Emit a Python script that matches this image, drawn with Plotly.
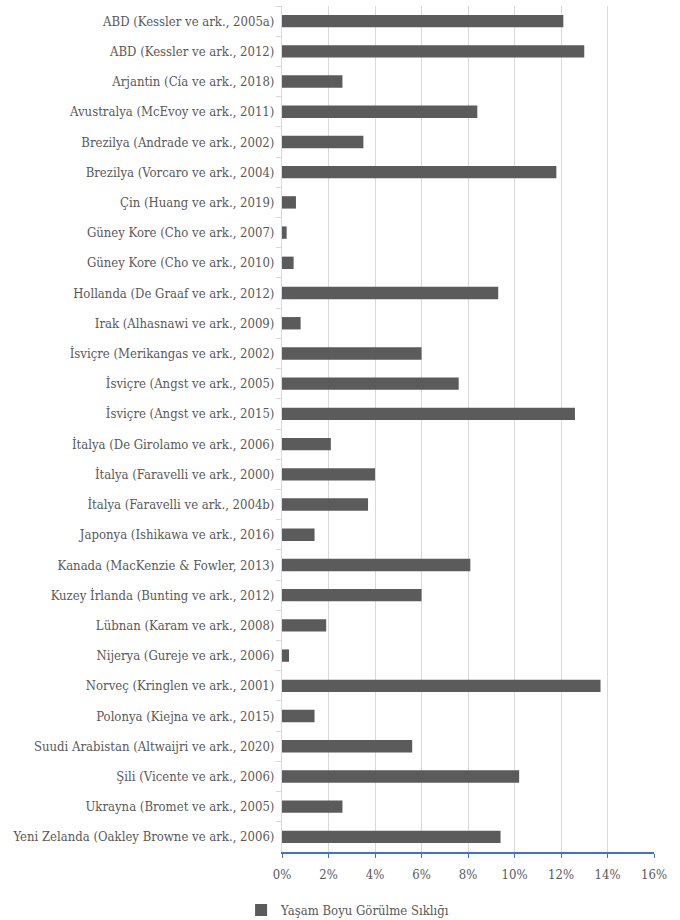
import plotly.graph_objects as go

# Lifetime prevalence by country / study (%)
studies = [
    "ABD (Kessler ve ark., 2005a)",
    "ABD (Kessler ve ark., 2012)",
    "Arjantin (Cía ve ark., 2018)",
    "Avustralya (McEvoy ve ark., 2011)",
    "Brezilya (Andrade ve ark., 2002)",
    "Brezilya (Vorcaro ve ark., 2004)",
    "Çin (Huang ve ark., 2019)",
    "Güney Kore (Cho ve ark., 2007)",
    "Güney Kore (Cho ve ark., 2010)",
    "Hollanda (De Graaf ve ark., 2012)",
    "Irak (Alhasnawi ve ark., 2009)",
    "İsviçre (Merikangas ve ark., 2002)",
    "İsviçre (Angst ve ark., 2005)",
    "İsviçre (Angst ve ark., 2015)",
    "İtalya (De Girolamo ve ark., 2006)",
    "İtalya (Faravelli ve ark., 2000)",
    "İtalya (Faravelli ve ark., 2004b)",
    "Japonya (Ishikawa ve ark., 2016)",
    "Kanada (MacKenzie & Fowler, 2013)",
    "Kuzey İrlanda (Bunting ve ark., 2012)",
    "Lübnan (Karam ve ark., 2008)",
    "Nijerya (Gureje ve ark., 2006)",
    "Norveç (Kringlen ve ark., 2001)",
    "Polonya (Kiejna ve ark., 2015)",
    "Suudi Arabistan (Altwaijri ve ark., 2020)",
    "Şili (Vicente ve ark., 2006)",
    "Ukrayna (Bromet ve ark., 2005)",
    "Yeni Zelanda (Oakley Browne ve ark., 2006)",
]

prevalence = [
    12.1, 13.0, 2.6, 8.4, 3.5, 11.8, 0.6, 0.2, 0.5, 9.3,
    0.8, 6.0, 7.6, 12.6, 2.1, 4.0, 3.7, 1.4, 8.1, 6.0,
    1.9, 0.3, 13.7, 1.4, 5.6, 10.2, 2.6, 9.4,
]

x_ticks = [0, 2, 4, 6, 8, 10, 12, 14, 16]
series_name = "Yaşam Boyu Görülme Sıklığı"

FONT = "DejaVu Serif Condensed"
TEXT_GREY = "#595959"
GRID = "#d9d9d9"

fig = go.Figure(
    go.Bar(
        x=prevalence,
        y=studies,
        orientation="h",
        name=series_name,
        marker=dict(color="#5b5b5b", line=dict(width=0)),
        showlegend=True,
    )
)

fig.update_layout(
    width=680,
    height=920,
    margin=dict(l=282, r=26, t=6, b=68, autoexpand=False),
    paper_bgcolor="white",
    plot_bgcolor="white",
    bargap=0.59,
    font=dict(family=FONT, size=13, color=TEXT_GREY),
    legend=dict(
        orientation="h",
        x=-0.11,
        xanchor="left",
        y=-0.0686,
        yanchor="middle",
        font=dict(family=FONT, size=13, color=TEXT_GREY),
        itemwidth=30,
    ),
)

fig.update_xaxes(
    range=[0, 16],
    tickvals=x_ticks,
    ticktext=[f"{v}%" for v in x_ticks],
    showgrid=True,
    gridcolor=GRID,
    gridwidth=1,
    zeroline=False,
    showline=True,
    linecolor="#4472c4",
    linewidth=1.5,
    ticks="outside",
    ticklen=4,
    tickcolor="#4472c4",
    ticklabelstandoff=6,
    automargin=False,
    tickfont=dict(family=FONT, size=13, color=TEXT_GREY),
)

fig.update_yaxes(
    categoryorder="array",
    categoryarray=studies,
    autorange="reversed",
    showgrid=False,
    showline=True,
    linecolor=GRID,
    linewidth=1,
    ticks="outside",
    tickson="boundaries",
    ticklen=5,
    tickcolor=GRID,
    ticklabelstandoff=4,
    automargin=False,
    tickfont=dict(family=FONT, size=13, color=TEXT_GREY),
)

fig.write_html("out.html")
